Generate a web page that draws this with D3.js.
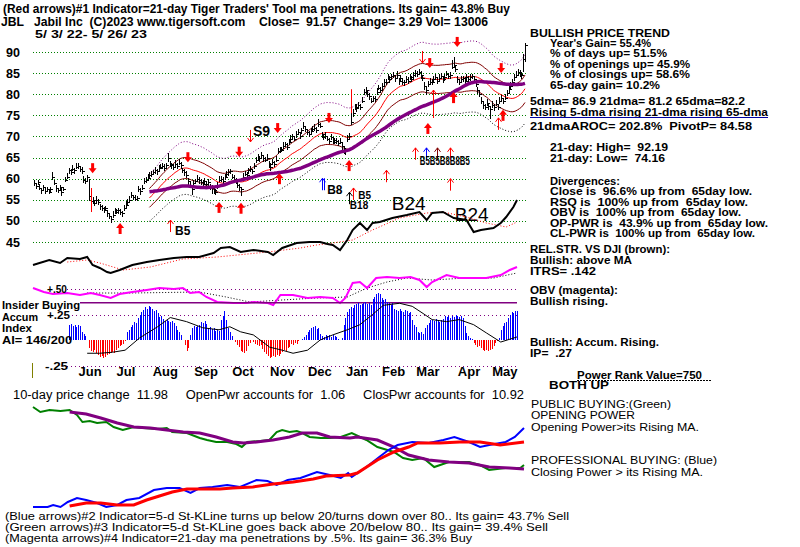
<!DOCTYPE html>
<html><head><meta charset="utf-8">
<script src="https://cdn.jsdelivr.net/npm/d3@7"></script>
<style>body{margin:0;background:#fff}svg{display:block}text{white-space:pre}</style>
</head><body><svg id="c" width="800" height="547"></svg>
<script>
// ---------------- DATA ----------------
const closes = [
59.0,58.2,59.3,57.8,57.2,58.0,57.0,57.6,56.9,57.5,
60.5,59.0,57.8,57.2,58.0,56.8,57.5,59.8,60.5,62.0,
61.5,62.4,62.0,62.8,63.0,62.2,61.8,59.8,59.5,60.3,
55.8,54.8,55.0,54.2,55.0,54.5,53.5,53.0,52.6,53.0,
51.8,51.2,50.5,51.5,52.5,52.2,52.6,52.0,51.8,53.0,
53.8,54.5,55.0,56.2,55.6,55.2,55.5,57.5,57.0,57.8,
59.5,59.8,60.2,60.8,61.0,61.5,62.0,61.8,62.5,62.8,
63.0,62.6,63.2,64.8,63.5,63.2,62.7,63.5,63.0,63.8,
63.2,62.0,61.5,60.8,59.5,58.5,57.5,59.0,59.5,60.0,
59.6,59.3,58.8,59.5,58.7,59.2,58.0,57.8,57.2,56.8,
58.5,59.8,60.0,59.4,60.5,61.0,61.5,61.8,60.5,60.0,
59.5,58.5,58.0,57.5,60.5,61.2,60.8,62.0,62.3,61.8,
63.0,64.5,65.0,64.8,65.5,64.8,64.5,65.0,63.5,62.8,
64.0,63.5,64.5,66.5,67.0,66.8,67.8,68.2,67.5,68.8,
69.5,70.0,69.5,70.5,71.0,70.0,71.5,72.5,71.8,71.0,
70.5,71.2,71.8,72.0,71.5,73.0,72.5,70.5,69.8,70.2,
69.5,69.0,69.8,69.2,68.8,69.0,68.5,68.8,67.8,67.0,
66.5,69.5,70.0,73.5,75.5,77.0,76.8,77.5,77.0,78.5,
80.5,81.0,80.0,79.5,78.5,79.0,78.8,80.5,81.5,81.0,
82.0,82.8,83.0,84.0,83.5,84.2,84.5,83.8,84.5,83.2,
83.8,83.0,82.8,83.5,83.2,84.0,83.5,84.5,85.0,84.8,
85.2,84.5,83.8,82.0,81.0,82.5,83.0,82.8,83.5,84.0,
83.2,83.8,84.2,83.5,84.0,84.8,84.2,84.5,86.5,87.0,
86.0,83.5,83.0,83.5,83.8,83.2,84.0,83.5,84.0,84.2,
83.5,82.5,81.0,80.0,78.5,77.5,77.0,78.0,77.2,76.5,
77.5,77.0,77.8,77.0,78.5,79.0,78.5,79.2,80.2,81.2,
82.0,82.8,84.0,84.5,85.2,84.8,84.5,88.28,91.57];

const highAboveClose = [
.6,.8,.5,.9,.7,.6,.8,.5,.7,.6,1.1,.8,.6,.7,.5,.9,.6,.7,.8,.6,
.7,.9,.6,.8,.7,.6,.9,.8,.7,.5,4.2,.8,.7,.6,.9,.7,.6,.8,.7,.6,
.8,.7,.6,.9,.6,.7,.5,.8,.6,.7,.9,.6,.8,.7,.6,.9,.5,.8,.7,.6,
.7,.6,.9,.7,.8,.6,.7,.5,.8,.6,.7,.9,.6,1.2,.8,.6,.7,.9,.6,.8,
.7,.6,.8,.9,.7,.6,.8,.7,.5,.8,.7,.6,.9,.7,.6,.8,.7,.6,.9,.7,
.6,.8,.7,.9,.6,.7,.8,.6,.7,.9,.6,.8,.7,.6,.9,.7,.8,.6,.7,.6,
.8,.7,.9,.6,.8,.7,.6,.9,.7,.8,.6,.7,.9,.8,.6,.7,.8,.6,.9,.7,
.8,.6,.7,.9,.7,.8,.6,.9,.7,.6,.8,.7,.6,.9,.7,1.1,.8,.6,.7,.8,
.7,.6,.8,.7,.9,.6,.7,.8,.6,.7,.8,.9,.7,2.0,1.0,.8,.9,.7,.8,.9,
.8,.7,.9,.8,.7,.6,.8,.9,.7,.8,.6,.9,.7,.8,.9,.7,.8,.6,.9,.7,
.8,.7,.6,.9,.8,.7,.9,.8,.7,.6,.8,.9,.7,.8,.7,.6,.9,.8,.7,.8,
.7,.9,.8,.6,.8,.7,.9,.7,1.5,1.8,1.0,.8,.7,.9,.6,.8,.7,.9,.8,.7,
.9,.8,.7,1.0,.9,.8,.7,.9,.8,.7,.9,.6,.8,.7,.9,.8,.7,.9,.8,.7,
.9,.8,.7,.9,.8,.9,.8,1.2,.62];

const lowBelowClose = [
.7,.6,.8,.5,.9,.7,.6,.8,.6,.7,.8,.6,.9,.7,.6,.8,.5,.7,.6,.8,
.6,.7,.9,.6,.8,.7,.6,.9,.7,.8,1.2,.7,.9,.6,.8,.7,.9,.6,.8,.7,
.9,.8,1.0,.7,.8,.6,.9,.7,.8,.6,.7,.9,.6,.8,.7,.6,.9,.7,.8,.6,
.7,.9,.6,.8,.7,.6,.8,.9,.7,.6,.8,.7,.6,.9,.7,.8,.6,.7,.8,.6,
.9,.7,.8,.6,.9,.8,1.3,.7,.6,.8,.9,.7,.6,.8,.7,.9,.6,1.4,.8,.7,
.9,.6,.8,.7,.9,.6,.8,.7,.6,.9,.8,.7,.9,1.6,.7,.6,.8,.9,.7,.6,
.8,.7,.6,.9,.7,.8,.6,.7,.9,1.0,.7,.8,.6,.7,.9,.6,.8,.7,.6,.8,
.7,.9,.6,.8,.7,.6,.9,.7,.8,.6,.7,.9,.8,.6,.7,.8,.6,.9,.7,.8,
.6,.8,.7,.9,.6,.7,.8,.6,.9,1.2,1.0,.8,.7,.9,.8,.7,.9,.8,.7,.6,
.8,.9,.7,.8,.6,.9,.7,.8,.6,.7,.9,.8,.7,.6,.8,.9,.7,.8,.6,.9,
.7,.8,.9,.6,.8,.7,.6,.8,.9,.7,.6,.8,.7,.9,1.2,.8,.7,.6,.8,.7,
.8,.6,.7,.9,.8,.6,.7,.8,.6,.7,.8,.9,.7,.6,.8,.7,.9,.6,.8,.7,
.6,.8,.9,.7,.8,1.0,.8,.7,.9,2.3,.7,.9,.6,.8,.7,.9,.8,.6,.7,.8,
.7,.8,.9,.6,.8,.7,.9,3.0,4.0];

const priceTicks = [45,50,55,60,65,70,75,80,85,90];
const monthStarts = [20,41,61,84,105,126,147,168,188,207,230,249];
const monthLabels = ["Jun","Jul","Aug","Sep","Oct","Nov","Dec","Jan","Feb","Mar","Apr","May"];

// Accumulation index (daily from day 20)
const aiStart = 20;
const accumIndex = [
0.15,0.16,0.14,0.15,0.13,0.15,0.14,0.08,0.06,0.04,
0.0,-0.08,-0.11,-0.12,-0.1,-0.13,-0.15,-0.17,-0.16,-0.18,
-0.17,-0.15,-0.14,-0.13,-0.12,-0.13,-0.1,-0.08,-0.06,-0.05,
-0.04,-0.01,0.08,0.1,0.13,0.15,0.18,0.17,0.22,0.25,
0.27,0.29,0.32,0.3,0.33,0.32,0.3,0.28,0.29,0.26,
0.23,0.24,0.21,0.19,0.2,0.19,0.18,0.19,0.17,0.14,
0.1,0.08,0.05,0.0,-0.05,-0.11,-0.08,0.05,0.12,0.14,
0.13,0.14,0.15,0.18,0.17,0.19,0.16,0.12,0.13,0.11,
0.12,0.09,0.1,0.09,0.2,0.24,0.28,0.2,0.12,0.08,
0.04,0.0,-0.02,-0.05,-0.07,-0.11,-0.12,-0.13,-0.11,-0.06,
-0.03,0.0,-0.02,-0.04,-0.05,-0.06,-0.05,-0.09,-0.12,-0.14,
-0.16,-0.18,-0.17,-0.16,-0.17,-0.15,-0.16,-0.14,-0.12,-0.1,
-0.11,-0.08,-0.07,-0.04,-0.05,-0.03,-0.04,-0.01,0.0,0.01,
0.03,0.05,0.08,0.1,0.12,0.13,0.14,0.11,0.12,0.06,
0.04,0.03,0.05,0.04,0.05,0.03,0.05,0.04,0.03,0.01,
0.0,0.02,0.15,0.22,0.27,0.3,0.32,0.31,0.34,0.35,
0.36,0.34,0.35,0.36,0.37,0.35,0.36,0.34,0.4,0.42,
0.45,0.46,0.45,0.41,0.39,0.4,0.37,0.36,0.34,0.36,
0.3,0.29,0.28,0.3,0.28,0.27,0.29,0.28,0.26,0.27,
0.2,0.15,0.13,0.08,0.07,0.08,0.06,0.12,0.15,0.17,
0.2,0.2,0.19,0.21,0.2,0.18,0.2,0.21,0.24,0.23,
0.24,0.22,0.24,0.23,0.25,0.24,0.23,0.24,0.22,0.14,
0.07,0.04,0.02,0.01,-0.03,-0.05,-0.07,-0.06,-0.08,-0.1,
-0.11,-0.1,-0.11,-0.1,-0.09,-0.06,-0.03,-0.01,0.02,0.1,
0.14,0.17,0.18,0.22,0.25,0.27,0.26,0.28,0.28];
const aiMaIdx = [30,37,44,51,59,69,76,85,94,103,109,115,122,131,138,144,152,159,166,174,181,188,194,203,210,216,221,229,236,244,251,259,268];
const aiMa = [-0.13,-0.13,-0.12,-0.1,0.02,0.13,0.22,0.18,0.12,0.1,0.13,0.08,0.05,-0.07,-0.1,-0.13,-0.1,0.0,0.05,0.1,0.15,0.25,0.34,0.36,0.33,0.26,0.2,0.18,0.2,0.15,0.07,-0.02,0.03];

// Relative strength vs DJI and its MA
const rsIdx = [0,9,15,19,26,30,33,37,41,43,48,55,63,70,78,85,92,100,104,109,115,122,130,133,138,146,153,159,163,166,170,174,177,181,185,188,192,199,207,214,218,221,227,233,240,244,248,255,259,262,266,268];
const rsVal = [10,15,12,17,16,18,10,7,3,2,5,10,13,15,17,18,18,22,27,28,23,25,23,20,27,32,33,33,31,30,25,35,45,52,45,52,53,57,60,63,55,62,63,57,55,43,45,47,52,58,68,75];
const rsMaIdx = [19,30,37,50,65,83,102,130,148,157,166,177,188,203,218,227,240,251,262,268];
const rsMa = [13,15,12,5,8,16,18,23,27,30,32,35,45,57,62,63,58,52,48,53];

// OBV and its MA
const obvIdx = [0,6,11,19,26,32,37,43,48,55,63,70,78,83,87,92,96,102,111,118,122,130,133,137,144,152,159,166,170,173,177,181,185,190,196,203,209,214,218,221,229,236,244,251,259,264,268];
const obvVal = [22,18,16,17,15,17,15,12,16,18,20,22,21,22,17,18,13,8,7,7,8,7,5,15,15,12,13,12,7,12,27,28,22,32,33,32,33,30,23,28,35,32,32,32,35,40,43];
const obvMaIdx = [30,55,92,107,120,138,157,174,185,196,207,221,240,255,268];
const obvMa = [17,17,18,13,8,10,12,13,22,28,32,30,32,32,37];

// Opening power (green) / MA (purple), Closing power (blue) / MA (red)
const opIdx = [0,4,9,15,20,24,27,31,35,40,44,49,55,60,68,73,76,84,91,95,100,106,111,114,117,124,129,133,136,140,144,147,151,157,162,168,174,182,188,197,202,207,213,219,227,238,244,249,258,266,268];
const opPower = [113,108,110,109,110,105,98,99,97,98,93,90,93,92,91,92,88,87,82,80,78,78,76,73,78,79,80,88,90,88,89,87,83,82,82,83,87,80,73,68,62,60,62,53,58,58,55,50,52,52,55];
const opMaIdx = [20,29,37,46,55,64,73,82,91,100,109,115,122,131,140,147,155,162,173,177,188,197,205,216,227,238,249,260,268];
const opMa = [108,106,102,97,93,92,90,88,87,83,78,77,78,80,83,87,87,83,82,83,80,73,65,60,58,57,53,52,51];
const cpIdx = [0,8,11,15,19,24,29,35,40,46,51,58,66,73,80,86,91,98,106,113,122,128,133,139,146,155,162,168,172,174,182,189,194,199,207,216,224,230,238,244,249,258,263,268];
const cpPower = [13,13,15,13,18,22,20,17,13,15,20,22,30,32,32,27,32,33,35,33,40,39,35,40,42,48,45,42,47,43,53,63,70,75,78,77,80,83,78,73,75,78,83,92];
const cpMaIdx = [20,29,37,46,55,62,69,76,84,91,102,109,120,131,142,153,160,173,177,188,197,205,210,222,233,244,255,268];
const cpMa = [14,17,17,15,15,20,24,28,31,31,31,32,33,36,38,41,44,45,47,60,68,73,77,77,78,78,75,78];

// Signals (day index, price level at arrow tip)
const thickDownArrows = [[32,61.3],[84,63.9],[112,65.2],[133,70.8],[161,73.2],[216,86.2],[231,91.2],[255,85.0]];
const thickUpArrows = [[47,49.5],[101,54.5],[113,54.3],[134,61.3],[172,64.4],[215,73.2],[229,80.5],[256,76.3]];
const thinArrowDay = [118,212,74,157,172,174,192,208,214,220,227,227,253,218,31,173];
const thinArrowPrice = [68.7,87.4,50.2,60.1,56.8,57.8,62.0,67.3,67.3,67.3,67.3,60.0,74.4,81.0,52.1,75.5];
const thinArrowDir = ["down","down","up","up","up","up","up","up","up","up","up","up","up","up","line","line"];
const thinArrowColor = ["#ff0000","#ff0000","#ff0000","#0000ff","#000000","#ff0000","#ff0000","#ff0000","#0000ff","#800000","#ff0000","#ff0000","#ff0000","#ff0000","#ff0000","#ff0000"];
const signalText = ["B5","S9","B8","B18","B5","B5B5B8B8B5"];
const signalDay = [77,119.5,160,172.4,177,210.6];
const signalPrice = [46.6,70.1,56.35,52.9,55.3,63.2];
const b24Day = [195.3,229.7];
const b24Price = [52.56,49.95];

// ---------------- DRAW ----------------
const svg = d3.select('#c');
const FF = "'Liberation Sans', Arial, sans-serif";
const n = closes.length;
const xP = d3.scaleLinear().domain([0,268]).range([34,525]);
const xL = d3.scaleLinear().domain([0,268]).range([33,517]);
const xB = d3.scaleLinear().domain([0,268]).range([33,524]);
const yP = d3.scaleLinear().domain([45,90]).range([242,52]);
const yRS = d3.scaleLinear().domain([0,100]).range([275,175]);
const yOBV = d3.scaleLinear().domain([0,100]).range([310,210]);
const yAI = d3.scaleLinear().domain([-0.25,0.25]).range([365.5,314.5]);
const yB = d3.scaleLinear().domain([0,120]).range([520,400]);
const px = v => Math.round(v) + 0.5;

function txt(x, y, s, o = {}) {
  const t = svg.append('text').attr('x', x).attr('y', y).text(s)
    .attr('font-family', FF).attr('font-size', o.size || 11.5)
    .attr('font-weight', o.w || 'bold').attr('fill', o.fill || '#000');
  if (o.len) t.attr('textLength', o.len).attr('lengthAdjust', 'spacingAndGlyphs');
  if (o.anchor) t.attr('text-anchor', o.anchor);
  return t;
}

// price grid
svg.append('g').selectAll('line').data(priceTicks).join('line')
  .attr('x1', 33).attr('x2', 527).attr('y1', d => px(yP(d))).attr('y2', d => px(yP(d)))
  .attr('stroke', '#008000').attr('stroke-dasharray', '1,2');
const ax = svg.append('g').attr('transform', 'translate(20,0)')
  .call(d3.axisLeft(yP).tickValues(priceTicks).tickSize(0).tickPadding(0).tickFormat(d3.format('d')));
ax.select('.domain').remove();
ax.attr('font-family', FF).attr('font-size', 12.5).attr('font-weight', 'bold');
ax.selectAll('text').attr('fill', '#000');

// moving averages computed from closes
const sma = (w, i) => d3.mean(closes.slice(Math.max(0, i - w + 1), i + 1));
const maDays = d3.range(63, n);
const lineP = d3.line().x(d => xP(d[0])).y(d => yP(d[1]));
const bandDefs = [[1.10,'#800080','1,2'],[1.04,'#800000',null],[1.0,'#ff0000',null],[0.96,'#800000',null],[0.90,'#000000','1,2']];
bandDefs.forEach(([k, c, dash]) => {
  svg.append('path').datum(maDays.map(i => [i, sma(21, i) * k])).attr('d', lineP)
    .attr('fill', 'none').attr('stroke', c).attr('stroke-width', 1).attr('stroke-dasharray', dash);
});

// price bars
const gb = svg.append('g').attr('shape-rendering', 'crispEdges').attr('stroke', '#000');
closes.forEach((c, i) => {
  const x = px(xP(i));
  gb.append('line').attr('x1', x).attr('x2', x)
    .attr('y1', yP(c + highAboveClose[i])).attr('y2', yP(c - lowBelowClose[i]));
  gb.append('line').attr('x1', x).attr('x2', x + 2).attr('y1', px(yP(c))).attr('y2', px(yP(c)));
});
// 65-dma
svg.append('path').datum(maDays.map(i => [i, sma(65, i)])).attr('d', lineP)
  .attr('fill', 'none').attr('stroke', '#800080').attr('stroke-width', 3.5);

// thick red arrows
thickDownArrows.forEach(([i, p]) => {
  const x = xP(i), y = yP(p);
  svg.append('rect').attr('x', x - 1.5).attr('y', y - 10).attr('width', 3).attr('height', 6).attr('fill', '#ff0000');
  svg.append('path').attr('d', `M${x-4},${y-5}L${x+4},${y-5}L${x},${y}Z`).attr('fill', '#ff0000');
});
thickUpArrows.forEach(([i, p]) => {
  const x = xP(i), y = yP(p);
  svg.append('rect').attr('x', x - 1.5).attr('y', y + 4).attr('width', 3).attr('height', 7).attr('fill', '#ff0000');
  svg.append('path').attr('d', `M${x-4},${y+5}L${x+4},${y+5}L${x},${y}Z`).attr('fill', '#ff0000');
});
// thin arrows
thinArrowDay.forEach((i, k) => {
  const x = px(xP(i)), y = yP(thinArrowPrice[k]), c = thinArrowColor[k], d = thinArrowDir[k];
  const g = svg.append('g').attr('stroke', c).attr('fill', 'none').attr('stroke-width', 1);
  if (d === 'down') {
    g.append('path').attr('d', `M${x},${y-12}L${x},${y}M${x-3},${y-4}L${x},${y}L${x+3},${y-4}`);
  } else if (d === 'up') {
    const len = (i === 218) ? 28 : 12;
    g.append('path').attr('d', `M${x},${y}L${x},${y+len}M${x-3},${y+4}L${x},${y}L${x+3},${y+4}`);
    if (c === '#0000ff' && i === 157) g.append('path').attr('d', `M${x+2},${y}L${x+2},${y+len}`);
  } else {
    g.append('path').attr('d', `M${x},${y}L${x},${y-24}`);
  }
});
signalText.forEach((s, k) => {
  const o = { size: s === 'S9' ? 14 : (k === 3 || k === 4 ? 10 : 12) };
  if (k === 5) o.len = 50;
  txt(xP(signalDay[k]), yP(signalPrice[k]), s, o);
});
b24Day.forEach((d, k) => txt(xP(d), yP(b24Price[k]), 'B24', { size: 19, w: 'normal' }));

// relative strength
const lineL = (ys) => d3.line().x(d => xL(d[0])).y(d => ys(d[1]));
svg.append('path').datum(rsMaIdx.map((d, k) => [d, rsMa[k]])).attr('d', lineL(yRS))
  .attr('fill', 'none').attr('stroke', '#ff0000').attr('stroke-dasharray', '1,2');
svg.append('path').datum(rsIdx.map((d, k) => [d, rsVal[k]])).attr('d', lineL(yRS))
  .attr('fill', 'none').attr('stroke', '#000').attr('stroke-width', 2);

// AI guide lines
[[0.5, 67], [0.25, 72], [-0.25, 67]].forEach(([v, x0]) => {
  svg.append('line').attr('x1', x0).attr('x2', 517).attr('y1', px(yAI(v))).attr('y2', px(yAI(v)))
    .attr('stroke', '#800080').attr('stroke-dasharray', '1,3');
});
// OBV
svg.append('path').datum(obvMaIdx.map((d, k) => [d, obvMa[k]])).attr('d', lineL(yOBV))
  .attr('fill', 'none').attr('stroke', '#000').attr('stroke-dasharray', '1,2');
svg.append('path').datum(obvIdx.map((d, k) => [d, obvVal[k]])).attr('d', lineL(yOBV))
  .attr('fill', 'none').attr('stroke', '#ff00ff').attr('stroke-width', 2);
// insider buying line
svg.append('line').attr('x1', 80).attr('x2', 517).attr('y1', yAI(0.365)).attr('y2', yAI(0.365))
  .attr('stroke', '#800080').attr('stroke-width', 1.5);

// AI bars
const ga = svg.append('g').attr('shape-rendering', 'crispEdges');
accumIndex.forEach((v, k) => {
  const x = px(xL(aiStart + k));
  ga.append('line').attr('x1', x).attr('x2', x).attr('y1', yAI(0)).attr('y2', yAI(v))
    .attr('stroke', v >= 0 ? '#0000ff' : '#ff0000');
});
svg.append('path').datum(aiMaIdx.map((d, k) => [d, aiMa[k]])).attr('d', lineL(yAI))
  .attr('fill', 'none').attr('stroke', '#000').attr('stroke-width', 1);

// month axis
const mx = svg.append('g').attr('transform', 'translate(0,367)')
  .call(d3.axisBottom(xL).tickValues(monthStarts).tickSize(0).tickPadding(0).tickFormat((d, k) => monthLabels[k]));
mx.select('.domain').remove();
mx.attr('font-family', FF).attr('font-size', 13).attr('font-weight', 'bold');
mx.selectAll('text').attr('fill', '#000').attr('text-anchor', 'start').attr('dx', 9);
svg.append('line').attr('x1', 32.5).attr('x2', 32.5).attr('y1', 363).attr('y2', 378).attr('stroke', '#808000');

// bottom power panel
const lineB = d3.line().x(d => xB(d[0])).y(d => yB(d[1]));
[[opIdx, opPower, '#008000', 2], [opMaIdx, opMa, '#800080', 3], [cpIdx, cpPower, '#0000ff', 2], [cpMaIdx, cpMa, '#ff0000', 3]]
  .forEach(([ix, vals, c, w]) => {
    svg.append('path').datum(ix.map((d, k) => [d, vals[k]])).attr('d', lineB)
      .attr('fill', 'none').attr('stroke', c).attr('stroke-width', w);
  });

// ---------------- TEXT ----------------
txt(3, 13, "(Red arrows)#1 Indicator=21-day Tiger Traders' Tool ma penetrations. Its gain= 43.8% Buy", { len: 507, size: 12 });
txt(1, 26, "JBL   Jabil Inc  (C)2023 www.tigersoft.com    Close=  91.57  Change= 3.29 Vol= 13006", { len: 487, size: 12 });
txt(35, 38, "5/ 3/ 22- 5/ 26/ 23", { len: 112 });

const R = [
 [530, 37, "BULLISH PRICE TREND", 140],
 [550, 47, "Year's Gain= 55.4%", 101],
 [550, 57, "% of days up= 51.5%", 117],
 [550, 67.5, "% of openings up= 45.9%", 140],
 [550, 78, "% of closings up= 58.6%", 140],
 [550, 89, "65-day gain= 10.2%", 110],
 [530, 105, "5dma= 86.9 21dma= 81.2 65dma=82.2", 215],
 [530, 115.5, "Rising 5-dma rising 21-dma rising 65-dma", 238],
 [530, 129.5, "21dmaAROC= 202.8%  PivotP= 84.58", 222],
 [550, 150.5, "21-day: High=  92.19", 118],
 [550, 161.5, "21-day: Low=  74.16", 115],
 [550, 184.5, "Divergences:", 70],
 [550, 195, "Close is  96.6% up from  65day low.", 202],
 [550, 205.5, "RSQ is  100% up from  65day low.", 198],
 [550, 216, "OBV is  100% up from  65day low.", 191],
 [550, 226.5, "OP-PWR is  43.9% up from  65day low.", 218],
 [550, 237, "CL-PWR is  100% up from  65day low.", 205],
 [530, 253, "REL.STR. VS DJI (brown):", 140],
 [530, 263.5, "Bullish: above MA", 102],
 [530, 274.5, "ITRS= .142", 66],
 [530, 294, "OBV (magenta):", 88],
 [530, 304.5, "Bullish rising.", 78],
 [530, 345.5, "Bullish: Accum. Rising.", 129],
 [530, 356.5, "IP=  .27", 42],
 [577, 378.5, "Power Rank Value=750", 125],
 [549, 389, "BOTH UP", 60]
];
R.forEach(([x, y, s, w]) => txt(x, y, s, { len: w }));
svg.append('line').attr('x1', 530).attr('x2', 768).attr('y1', 117.5).attr('y2', 117.5).attr('stroke', '#0000a0');
svg.append('line').attr('x1', 577).attr('x2', 712).attr('y1', 380.5).attr('y2', 380.5).attr('stroke', '#000').attr('stroke-dasharray', '2,1');

// left labels of lower panels
txt(47, 292.5, "+.50", { len: 20 });
txt(2, 309, "Insider Buying", { len: 78, size: 10.5 });
txt(2, 320.5, "Accum", { len: 36, size: 10.5 });
txt(47, 319, "+.25", { len: 23 });
txt(2, 332, "Index", { len: 30, size: 10.5 });
txt(2, 343.5, "AI= 146/200", { len: 70, size: 10.5 });
txt(45, 369.5, "-.25", { len: 23 });

// bottom texts
txt(13, 399, "10-day price change  11.98     OpenPwr accounts for  1.06     ClosPwr accounts for  10.92", { w: 'normal', len: 511, size: 12.5 });
txt(531, 407.5, "PUBLIC BUYING:(Green)", { w: 'normal', len: 140 });
txt(531, 418.5, "OPENING POWER", { w: 'normal', len: 104 });
txt(531, 430.5, "Opening Power>its Rising MA.", { w: 'normal', len: 168 });
txt(531, 464, "PROFESSIONAL BUYING: (Blue)", { w: 'normal', len: 186 });
txt(531, 476, "Closing Power > its Rising MA.", { w: 'normal', len: 172 });
txt(5, 520, "(Blue arrows)#2 Indicator=5-d St-KLine turns up below 20/turns down over 80.. Its gain= 43.7% Sell", { w: 'normal', len: 564 });
txt(5, 531, "(Green arrows)#3 Indicator=5-d St-KLine goes back above 20/below 80.. Its gain= 39.4% Sell", { w: 'normal', len: 543 });
txt(5, 542, "(Magenta arrows)#4 Indicator=21-day ma penetrations by .5%. Its gain= 36.3% Buy", { w: 'normal', len: 467 });
</script>
</body></html>
